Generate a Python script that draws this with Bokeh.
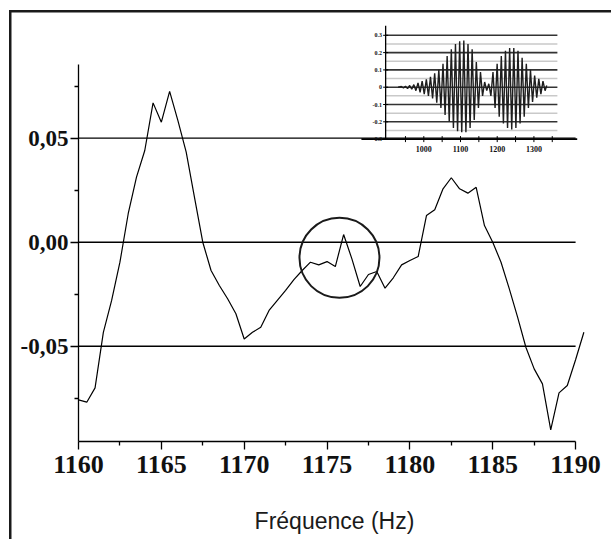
from bokeh.plotting import figure
from bokeh.models import (Range1d, LinearAxis, FixedTicker, CustomJSTickFormatter)
from bokeh.core.properties import value
from bokeh.embed import file_html
from bokeh.resources import INLINE

# ---------------- data: main spectrum ----------------
freq = [1160.0, 1160.5, 1161.0, 1161.5, 1162.0, 1162.5, 1163.0, 1163.5, 1164.0, 1164.5,
        1165.0, 1165.5, 1166.0, 1166.5, 1167.0, 1167.5, 1168.0, 1168.5, 1169.0, 1169.5,
        1170.0, 1170.5, 1171.0, 1171.5, 1172.0, 1172.5, 1173.0, 1173.5, 1174.0, 1174.5,
        1175.0, 1175.5, 1176.0, 1176.5, 1177.0, 1177.5, 1178.0, 1178.5, 1179.0, 1179.5,
        1180.0, 1180.5, 1181.0, 1181.5, 1182.0, 1182.5, 1183.0, 1183.5, 1184.0, 1184.5,
        1185.0, 1185.5, 1186.0, 1186.5, 1187.0, 1187.5, 1188.0, 1188.5, 1189.0, 1189.5,
        1190.0, 1190.5]
amplitude = [-0.0758, -0.0769, -0.0700, -0.0433, -0.0280, -0.0096, 0.0137, 0.0313, 0.0441, 0.0670,
             0.0577, 0.0725, 0.0585, 0.0433, 0.0216, 0.0000, -0.0136, -0.0208, -0.0272, -0.0344,
             -0.0465, -0.0433, -0.0409, -0.0328, -0.0280, -0.0232, -0.0180, -0.0136, -0.0096, -0.0109,
             -0.0093, -0.0117, 0.0037, -0.0080, -0.0213, -0.0155, -0.0141, -0.0221, -0.0171, -0.0109,
             -0.0088, -0.0069, 0.0128, 0.0156, 0.0257, 0.0310, 0.0257, 0.0236, 0.0264, 0.0080,
             0.0000, -0.0096, -0.0224, -0.0360, -0.0505, -0.0609, -0.0681, -0.0902, -0.0724, -0.0689,
             -0.0565, -0.0433]
x_ticks = [1160, 1165, 1170, 1175, 1180, 1185, 1190]
x_minor = [1162.5, 1167.5, 1172.5, 1177.5, 1182.5, 1187.5]
y_ticks = [-0.05, 0.0, 0.05]
y_minor = [-0.075, -0.025, 0.025, 0.075]
x_title = "Fréquence (Hz)"
highlight_x = [1175.75]
highlight_y = [-0.0075]

# ---------------- data: inset signal ----------------
inset_t = [930, 938.8, 944.5, 950.1, 955.8, 961.5, 967.2, 972.8, 978.5, 984.2, 989.9, 995.5,
           1001.2, 1006.9, 1012.6, 1018.2, 1023.9, 1029.6, 1035.3, 1040.9, 1046.6, 1052.3, 1058.0,
           1063.6, 1069.3, 1075.0, 1080.7, 1086.3, 1092.0, 1097.7, 1103.4, 1109.0, 1114.7, 1120.4,
           1126.1, 1131.7, 1137.4, 1143.1, 1148.8, 1154.4, 1160.1, 1165.8, 1171.5, 1177.1, 1182.8,
           1188.5, 1194.2, 1199.8, 1205.5, 1211.2, 1216.9, 1222.5, 1228.2, 1233.9, 1239.6, 1245.2,
           1250.9, 1256.6, 1262.3, 1267.9, 1273.6, 1279.3, 1285.0, 1290.6, 1296.3, 1302.0, 1307.7,
           1313.3, 1319.0, 1324.7, 1330.4, 1335.0]
inset_v = [0.0, 0.004, -0.004, 0.006, -0.008, 0.010, -0.012, 0.015, -0.020, 0.025, -0.030, 0.035,
           -0.040, 0.045, -0.050, 0.060, -0.065, 0.080, -0.090, 0.100, -0.120, 0.135, -0.160,
           0.180, -0.200, 0.220, -0.235, 0.250, -0.255, 0.265, -0.260, 0.270, -0.260, 0.250,
           -0.235, 0.220, -0.190, 0.145, -0.120, 0.087, -0.050, 0.030, -0.020, 0.020, -0.050,
           0.087, -0.120, 0.135, -0.170, 0.180, -0.210, 0.210, -0.235, 0.227, -0.245, 0.227,
           -0.235, 0.210, -0.210, 0.170, -0.170, 0.135, -0.120, 0.100, -0.085, 0.067, -0.060,
           0.048, -0.040, 0.035, -0.020, 0.010]
inset_x_ticks = [1000, 1100, 1200, 1300]
inset_x_minor = [950, 1000, 1050, 1100, 1150, 1200, 1250, 1300, 1350]
inset_y_ticks = [-0.3, -0.2, -0.1, 0.0, 0.1, 0.2, 0.3]
inset_y_grid_major = [-0.2, -0.1, 0.0, 0.1, 0.2, 0.3]
inset_y_grid_minor = [-0.25, -0.15, -0.05, 0.05, 0.15, 0.25]
inset_y_labels = ["-0.3", "-0.2", "-0.1", "0", "0.1", "0.2", "0.3"]
inset_x_labels = ["1000", "1100", "1200", "1300"]
inset_x_extent = [896.0, 1364.0]     # grid line extent
inset_xaxis_extent = [830.0, 1418.0]
inset_y_extent = [-0.3, 0.355]

# ---------------- figure ----------------
W, H = 611, 539
# outer box of the original figure: only its top and left edges are in view
box_css = {
    "background-color": "white",
    "background-image": "linear-gradient(#1a1a1a, #1a1a1a), linear-gradient(#1a1a1a, #1a1a1a)",
    "background-size": "2.5px 540px, 610px 2.5px",
    "background-position": "9px 10px, 9px 10px",
    "background-repeat": "no-repeat",
}
p = figure(width=W, height=H, output_backend="svg", toolbar_location=None,
           x_range=Range1d(1160, 1190.9), y_range=Range1d(-0.0958, 0.1090),
           x_axis_type=None, y_axis_type=None,
           min_border_left=78, min_border_right=21, min_border_top=15, min_border_bottom=98,
           styles=box_css)
p.outline_line_color = None
p.background_fill_color = "white"
p.border_fill_color = None
p.xgrid.visible = False
p.ygrid.visible = False

# inset coordinate system (maps the inset data onto the upper-right region)
p.extra_x_ranges = {"ix": Range1d(59.1, 1454.2)}
p.extra_y_ranges = {"iy": Range1d(-2.048, 0.4145)}

serif = "Liberation Serif"

xaxis = LinearAxis(ticker=FixedTicker(ticks=x_ticks, minor_ticks=x_minor),
                   bounds=(x_ticks[0], x_ticks[-1]))
xaxis.axis_label = x_title
xaxis.axis_label_text_font = "Liberation Sans"
xaxis.axis_label_text_font_style = "normal"
xaxis.axis_label_text_font_size = "23px"
xaxis.axis_label_text_color = "#1a1a1a"
xaxis.axis_label_standoff = 32
xaxis.major_label_text_font = serif
xaxis.major_label_text_font_style = "bold"
xaxis.major_label_text_font_size = "26px"
xaxis.major_label_text_color = "#111111"
xaxis.major_label_standoff = 6
xaxis.major_tick_out = 8
xaxis.major_tick_in = 0
xaxis.minor_tick_out = 4
xaxis.minor_tick_in = 0
xaxis.axis_line_color = "black"
xaxis.axis_line_width = 1.3
xaxis.major_tick_line_width = 1.3
xaxis.minor_tick_line_width = 1.3
p.add_layout(xaxis, "below")

yaxis = LinearAxis(ticker=FixedTicker(ticks=y_ticks, minor_ticks=y_minor),
                   bounds=(-0.0958, 0.0855),
                   formatter=CustomJSTickFormatter(code="return tick.toFixed(2).replace('.', ',');"))
yaxis.major_label_text_font = serif
yaxis.major_label_text_font_style = "bold"
yaxis.major_label_text_font_size = "23px"
yaxis.major_label_text_color = "#111111"
yaxis.major_label_standoff = 2
yaxis.major_tick_out = 8
yaxis.major_tick_in = 0
yaxis.minor_tick_out = 4
yaxis.minor_tick_in = 0
yaxis.axis_line_color = "black"
yaxis.axis_line_width = 1.3
yaxis.major_tick_line_width = 1.3
yaxis.minor_tick_line_width = 1.3
p.add_layout(yaxis, "left")

# main horizontal grid lines (only over the labelled span)
p.segment(x0=[x_ticks[0]] * len(y_ticks), x1=[x_ticks[-1]] * len(y_ticks),
          y0=y_ticks, y1=y_ticks, line_color="black", line_width=1.3)

# main curve
p.line(freq, amplitude, line_color="black", line_width=1.2)

# highlight circle
p.scatter(highlight_x, highlight_y, marker="circle", size=80, fill_color=None,
          line_color="#1a1a1a", line_width=2)

# ---------------- inset ----------------
kw = dict(x_range_name="ix", y_range_name="iy")
n = len(inset_y_grid_minor)
p.segment(x0=[inset_x_extent[0]] * n, x1=[inset_x_extent[1]] * n,
          y0=inset_y_grid_minor, y1=inset_y_grid_minor, line_color="#c9c9c9", line_width=1.5, **kw)
n = len(inset_y_grid_major)
p.segment(x0=[inset_x_extent[0]] * n, x1=[inset_x_extent[1]] * n,
          y0=inset_y_grid_major, y1=inset_y_grid_major, line_color="#333333", line_width=1.6, **kw)

p.line(inset_t, inset_v, line_color="#1e1e1e", line_width=1.4, **kw)

# inset axes
p.segment(x0=[inset_xaxis_extent[0]], x1=[inset_xaxis_extent[1]],
          y0=[inset_y_extent[0]], y1=[inset_y_extent[0]], line_color="black", line_width=1.6, **kw)
p.segment(x0=[inset_x_extent[0]], x1=[inset_x_extent[0]],
          y0=[inset_y_extent[0]], y1=[inset_y_extent[1]], line_color="black", line_width=1.3, **kw)
p.scatter(inset_x_minor, [inset_y_extent[0]] * len(inset_x_minor), marker="dash", angle=1.5708,
          size=6, line_color="black", line_width=1, **kw)
p.scatter([inset_x_extent[0]] * len(inset_y_ticks), inset_y_ticks, marker="dash",
          size=5, line_color="black", line_width=1, **kw)

p.text(x=[inset_x_extent[0] - 10] * len(inset_y_ticks), y=inset_y_ticks, text=inset_y_labels,
       text_font=value(serif), text_font_style="bold", text_font_size="6px",
       text_align="right", text_baseline="middle", text_color="#111111", **kw)
p.text(x=inset_x_ticks, y=[inset_y_extent[0] - 0.055] * len(inset_x_ticks), text=inset_x_labels,
       text_font=value(serif), text_font_style="bold", text_font_size="8px",
       text_align="center", text_baseline="middle", text_color="#111111", **kw)

open("out.html", "w").write(file_html(p, INLINE))
